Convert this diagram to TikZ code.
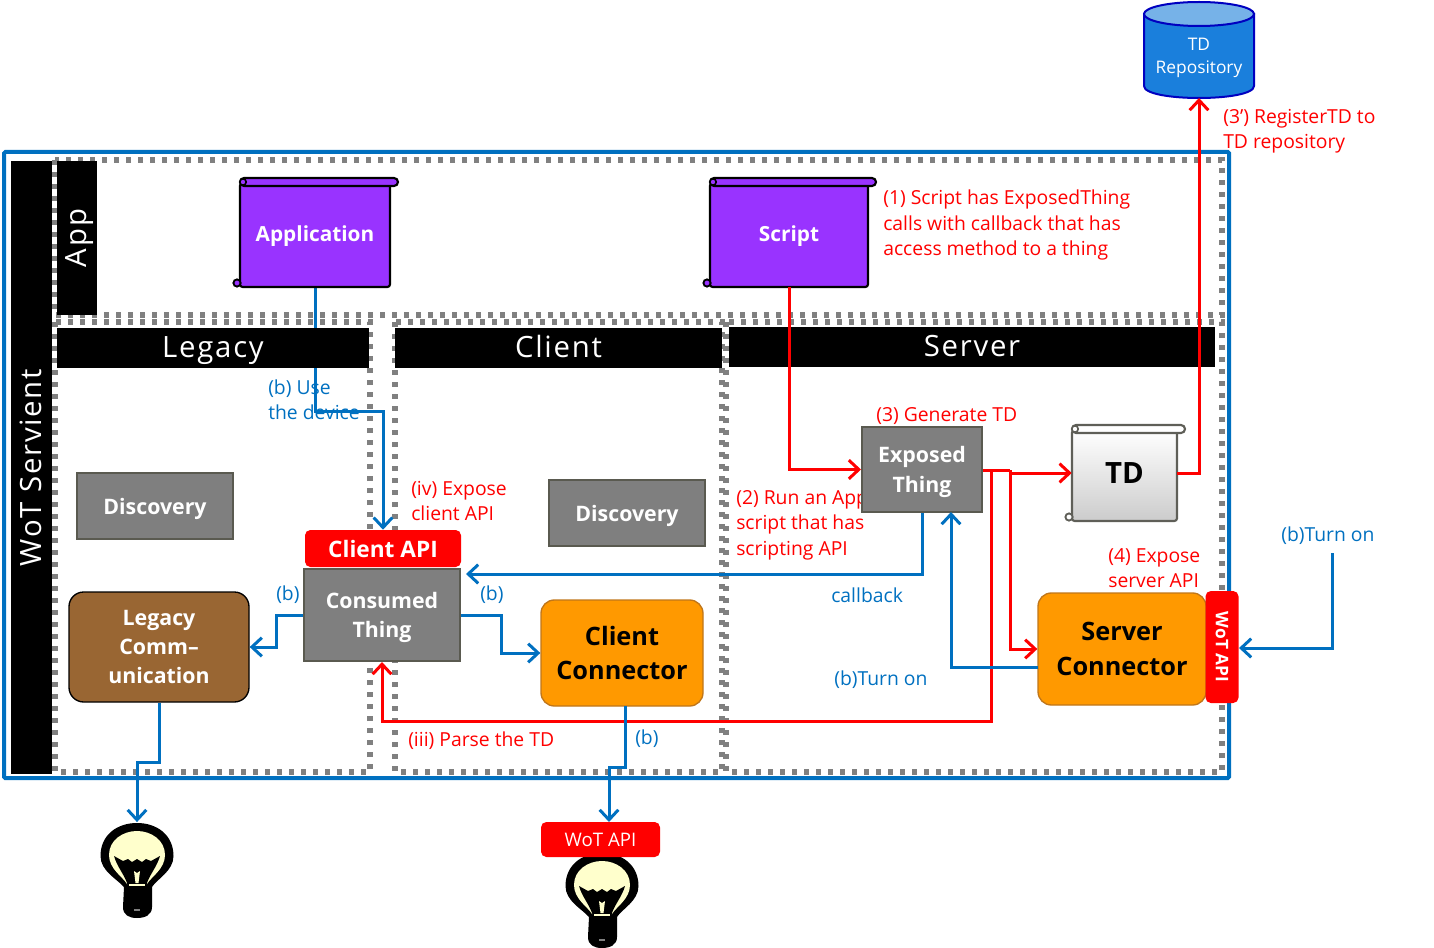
\documentclass[tikz,border=0pt]{standalone}
\usepackage{fontspec}
\setmainfont{Open Sans}
\usetikzlibrary{arrows.meta}
\definecolor{wotblue}{HTML}{0070C0}
\definecolor{wotred}{HTML}{FF0000}
\definecolor{dotgrey}{HTML}{808080}
\definecolor{boxgrey}{HTML}{7F7F7F}
\definecolor{boxedge}{HTML}{5A5A50}
\definecolor{purplebox}{HTML}{9933FF}
\definecolor{orangebox}{HTML}{FF9900}
\definecolor{orangeedge}{HTML}{C0761A}
\definecolor{brownbox}{HTML}{996633}
\definecolor{pale}{HTML}{FFFFCC}
\definecolor{cylfill}{HTML}{1A7FDC}
\definecolor{cyltop}{HTML}{76B2E8}
\definecolor{cyledge}{HTML}{0000C0}
\definecolor{scrolledge}{HTML}{5F5F58}
\newcommand{\pxfont}[1]{\fontsize{#1}{#1}\selectfont}
\newcommand{\barfont}{\fontsize{22}{22}\selectfont\addfontfeature{LetterSpace=6}}
\newcommand{\scrollshape}[7]{% x1 y1 x2 y2 edge bodystyle barfill
  \path[draw=#5,line width=1.6pt,rounded corners=2pt,#6] (#1,#2+5) -- (#1,#4) -- (#3,#4) -- (#3,#2+5) -- cycle;
  \path[draw=#5,line width=1.6pt,fill=#7,rounded corners=3pt] (#1,#2) rectangle (#3+8,#2+8);
  \path[draw=#5,line width=1.2pt,fill=#7] (#1+3,#2+4) circle (3.2);
  \path[draw=#5,line width=1.4pt,fill=#7] (#1-3,#4-4) circle (3.6);
}
\newcommand{\bulbshape}[2]{% centre x, top y
  \begin{scope}[shift={(#1,#2)}]
    \fill[black] (-13,64) .. controls (-20,56) and (-36.5,48) .. (-36.5,33)
      .. controls (-36.5,12) and (-20,0) .. (0,0)
      .. controls (20,0) and (36.5,12) .. (36.5,33)
      .. controls (36.5,48) and (20,56) .. (15,64)
      -- (15,84) .. controls (15,92) and (8,95) .. (0,95)
      .. controls (-8,95) and (-14,92) .. (-14,84) -- cycle;
    \fill[pale] (-10,61) .. controls (-14,54) and (-28,46) .. (-28,32)
      .. controls (-28,17) and (-14,8) .. (0,8)
      .. controls (14,8) and (28,17) .. (28,32)
      .. controls (28,46) and (14,54) .. (10,61) -- cycle;
    \fill[black] (-23,33) -- (-14,38) -- (-9,36) -- (-5,39) -- (0,36) -- (5,39) -- (9,36) -- (14,38) -- (23,33)
      .. controls (20,44) and (12,52) .. (9,63) -- (-9,63) .. controls (-12,52) and (-20,44) .. (-23,33) -- cycle;
    \fill[pale] (-3,48) -- (0,50) -- (3,48) -- (1.5,60) -- (-1.5,60) -- cycle;
    \fill[pale] (-8,60.5) rectangle (8,62.5);
    \fill[gray] (-3,86) rectangle (3,87.5);
  \end{scope}
}
\tikzset{
  x=0.75pt,y=-0.75pt,
  dotline/.style={draw=dotgrey,line width=4pt,dash pattern=on 4pt off 5pt},
  bluearrow/.style={draw=wotblue,line width=2.25pt,-{Straight Barb[length=7.5pt,width=14pt,line width=2.25pt]}},
  redarrow/.style={draw=wotred,line width=2.25pt,-{Straight Barb[length=7.5pt,width=14pt,line width=2.25pt]}},
  redline/.style={draw=wotred,line width=2.25pt},
  blackbar/.style={fill=black,text=white,inner sep=0pt,font=\barfont,text height=16pt,text depth=2pt},
  greybox/.style={fill=boxgrey,draw=boxedge,line width=1.5pt,text=white,inner sep=0pt,align=center,font=\bfseries\pxfont{16},text depth=0pt},
  orangenode/.style={fill=orangebox,draw=orangeedge,line width=1pt,rounded corners=10pt,inner sep=0pt,align=center,font=\bfseries\pxfont{19}},
  redtag/.style={fill=wotred,text=white,rounded corners=4pt,inner sep=0pt,align=center},
  scrolltext/.style={inner sep=0pt,align=center},
  redlabel/.style={text=wotred,inner sep=0pt,anchor=west,align=left,font=\pxfont{14.5}},
  bluelabel/.style={text=wotblue,inner sep=0pt,anchor=west,align=left,font=\pxfont{14.5}},
}
\begin{document}
\begin{tikzpicture}
\useasboundingbox (0,0) rectangle (1434,948);
% frame and zones
\draw[wotblue,line width=3pt,rounded corners=1pt] (4,152) rectangle (1229,778);
\draw[dotline] (55,160) rectangle (1222,315);
\draw[dotline] (55,322) rectangle (370,772);
\draw[dotline] (395,322) rectangle (722,772);
\draw[dotline] (726,322) rectangle (1222,772);
% named nodes that connectors use
\node[inner sep=0pt,minimum width=150*0.75pt,minimum height=109*0.75pt] (app) at (315,232.5) {};
\node[inner sep=0pt,minimum width=158*0.75pt,minimum height=109*0.75pt] (script) at (789,232.5) {};
\node[redtag,minimum width=156*0.75pt,minimum height=37*0.75pt,font=\bfseries\pxfont{17}] (capi) at (383,548.5) {Client API};
% connector that runs behind the Legacy bar
\draw[bluearrow] (app.south) -- (app.south |- 0,411) -| (capi.north);
% header bars
\node[blackbar,minimum width=41*0.75pt,minimum height=613*0.75pt] (servient) at (31.5,467.5) {};
\node[text=white,rotate=90,font=\barfont] (servienttext) at (30.5,467.5) {WoT Servient};
\node[blackbar,minimum width=40*0.75pt,minimum height=154*0.75pt] (appbar) at (77,238) {};
\node[text=white,rotate=90,font=\barfont] (apptext) at (80,238) {App};
\node[blackbar,minimum width=312*0.75pt,minimum height=40*0.75pt] (legacybar) at (213,348) {Legacy};
\node[blackbar,minimum width=327*0.75pt,minimum height=40*0.75pt] (clientbar) at (558.5,348) {Client};
\node[blackbar,minimum width=486*0.75pt,minimum height=40*0.75pt] (serverbar) at (972,347) {Server};
% label that runs behind Exposed Thing
\node[redlabel] (lab2) at (736,525) {(2) Run an App\\[4.5pt]script that has\\[4.5pt]scripting API};
% scrolls
\scrollshape{240}{178}{390}{287}{black}{fill=purplebox}{purplebox}
\node[scrolltext,text=white,font=\bfseries\pxfont{15.6},text depth=0pt] (apptxt) at (315,234) {Application};
\scrollshape{710}{178}{868}{287}{black}{fill=purplebox}{purplebox}
\node[scrolltext,text=white,font=\bfseries\pxfont{15.6},text depth=0pt] (scripttxt) at (789,234) {Script};
\scrollshape{1072}{425}{1177}{521}{scrolledge}{top color=white,bottom color=black!20!white}{white}
\node[inner sep=0pt,minimum width=105*0.75pt,minimum height=96*0.75pt,font=\bfseries\pxfont{22}] (td) at (1124.5,473) {TD};
% boxes
\node[greybox,minimum width=156*0.75pt,minimum height=66*0.75pt] (disc1) at (155,506) {Discovery};
\node[greybox,minimum width=156*0.75pt,minimum height=66*0.75pt] (disc2) at (627,513) {Discovery};
\node[greybox,minimum width=156*0.75pt,minimum height=92*0.75pt] (consumed) at (382,615) {Consumed\\[6pt]Thing};
\node[greybox,minimum width=120*0.75pt,minimum height=85*0.75pt] (exposed) at (922,469.5) {Exposed\\[6pt]Thing};
\node[fill=brownbox,draw=black,line width=1pt,rounded corners=11pt,text=white,inner sep=0pt,align=center,font=\bfseries\pxfont{16},minimum width=180*0.75pt,minimum height=110*0.75pt] (legacy) at (159,647) {Legacy\\[6pt]Comm–\\[6pt]unication};
\node[orangenode,minimum width=162*0.75pt,minimum height=106*0.75pt] (cconn) at (622,653) {Client\\[7pt]Connector};
\node[orangenode,minimum width=168*0.75pt,minimum height=112*0.75pt] (sconn) at (1122,649) {Server\\[7pt]Connector};
\node[redtag,minimum width=33*0.75pt,minimum height=112*0.75pt] (wot) at (1222,647) {};
\node[text=white,rotate=-90,font=\bfseries\pxfont{13}] (wottext) at (1222,647) {WoT API};
% repository
\path[draw=cyledge,line width=1.5pt,fill=cylfill] (1144,14) -- (1144,86) .. controls (1144,102) and (1254,102) .. (1254,86) -- (1254,14) -- cycle;
\path[draw=cyledge,line width=1.5pt,fill=cyltop] (1199,14) ellipse[x radius=55,y radius=12];
\node[inner sep=0pt,text=white,align=center,font=\pxfont{13}] (repotxt) at (1199,58) {TD\\[4pt]Repository};
\coordinate (repo) at (1199,98);
% bulbs
\bulbshape{137}{823}
\bulbshape{602}{853}
\node[inner sep=0pt,minimum width=73*0.75pt,minimum height=1pt] (bulb) at (137,823) {};
\node[redtag,minimum width=119*0.75pt,minimum height=35*0.75pt,font=\pxfont{14}] (wotb) at (600.5,839.5) {WoT API};
% tap points and free ends
\coordinate (expout) at (983,470);
\coordinate (tapa) at (991,470);
\coordinate (tapb) at (1010,470);
\coordinate (tapc) at (1009,473);
\coordinate (tdout) at (1199,473);
\coordinate (callback) at (466,574);
\coordinate (sconnb) at (1038,667);
\coordinate (expb) at (951,512);
\coordinate (turnon) at (1332,553);
\coordinate (wotin) at (1239,648);
\coordinate (cconnb) at (625,706);
\coordinate (wotbtop) at (609,822);
% red connectors
\draw[redarrow] (script.south) |- (exposed.west);
\draw[redline] (expout) -- (tapb);
\draw[redarrow] (tapc) -- (td.west);
\draw[redarrow] (tapa) -- (991,721) -| (consumed.south);
\draw[redarrow] (tapb) -- (1010,649) -- (sconn.west);
\draw[redarrow] (td.east) -- (tdout) -- (repo);
% blue connectors
\draw[bluearrow] (exposed.south) |- (callback);
\draw[bluearrow] (sconnb) -| (expb);
\draw[bluearrow] (consumed.west) -- (276,615) -- (276,647) -- (legacy.east);
\draw[bluearrow] (consumed.east) -- (501,615) -- (501,653) -- (cconn.west);
\draw[bluearrow] (legacy.south) -- (159,762) -- (137,762) -- (bulb.north);
\draw[bluearrow] (cconnb) -- (625,767) -- (609,767) -- (wotbtop);
\draw[bluearrow] (turnon) |- (wotin);
% labels
\node[redlabel] (lab1) at (883,225) {(1) Script has ExposedThing\\[4.5pt]calls with callback that has\\[4.5pt]access method to a thing};
\node[redlabel] (lab3) at (876,416) {(3) Generate TD};
\node[redlabel] (lab3b) at (1223,131) {(3’) RegisterTD to\\[4.5pt]TD repository};
\node[redlabel] (lab4) at (1108,568) {(4) Expose\\[4.5pt]server API};
\node[redlabel] (labiv) at (411,501) {(iv) Expose\\[4.5pt]client API};
\node[redlabel] (labiii) at (408,741) {(iii) Parse the TD};
\node[bluelabel] (labuse) at (268,400) {(b) Use\\[4.5pt]the device};
\node[bluelabel] (labb1) at (276,595) {(b)};
\node[bluelabel] (labb2) at (480,595) {(b)};
\node[bluelabel] (labb3) at (635,739) {(b)};
\node[bluelabel] (labcb) at (831,595) {callback};
\node[bluelabel] (labt1) at (834,680) {(b)Turn on};
\node[bluelabel] (labt2) at (1281,536) {(b)Turn on};
\end{tikzpicture}
\end{document}
